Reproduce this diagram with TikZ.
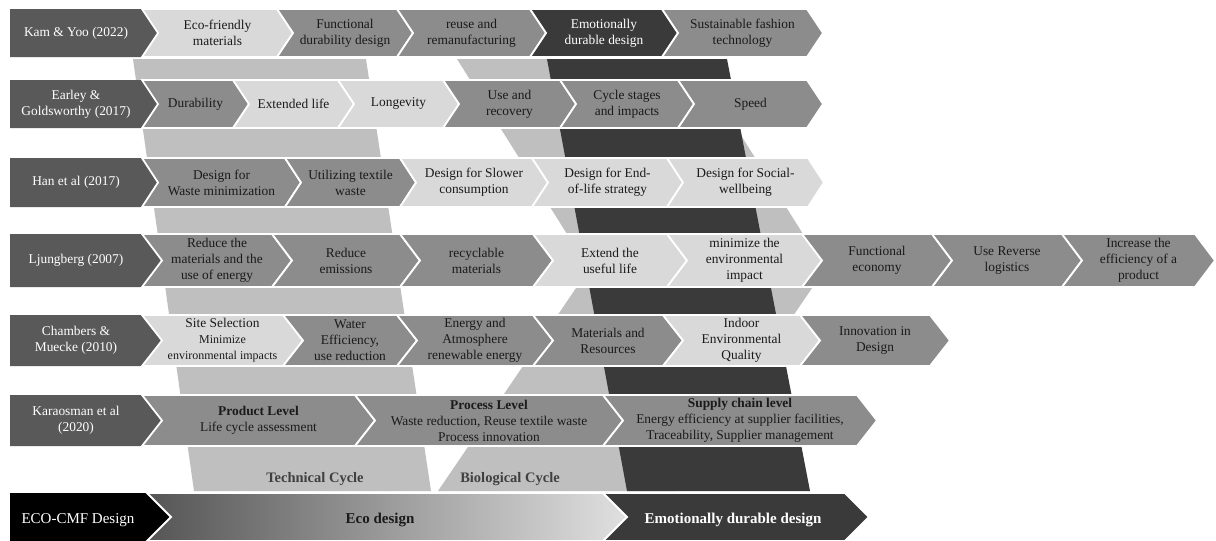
\documentclass[tikz,border=0pt]{standalone}
\usepackage{fontspec}
\setmainfont{Liberation Serif}
\usetikzlibrary{calc}
\definecolor{lab}{HTML}{595959}
\definecolor{lt}{HTML}{D9D9D9}
\definecolor{md}{HTML}{8C8C8C}
\definecolor{dk}{HTML}{3A3A3A}
\definecolor{pil}{HTML}{BFBFBF}
\definecolor{ink}{HTML}{1A1A1A}
\definecolor{bandtxt}{HTML}{404040}
\definecolor{edl}{HTML}{555555}
\definecolor{edr}{HTML}{E0E0E0}
\newcommand{\setrow}[3]{\def\rowt{#1}\def\rowb{#2}\def\rowd{#3}\pgfmathsetmacro\rowm{(#1+#2)/2}}
\newcommand{\chv}[6]{%
  \path[fill=#4,draw=white,line width=1.8pt,line join=miter] (#2,\rowt) -- (#3,\rowt) -- ({#3+\rowd},\rowm) -- (#3,\rowb) -- (#2,\rowb) -- ({#2+\rowd},\rowm) -- cycle;
  \node[txt,text=#5] (#1) at ({(#2+#3)/2+\rowd/2},\rowm) {#6};}
\newcommand{\lbl}[4]{%
  \path[fill=#3] (10,\rowt) -- (#2,\rowt) -- ({#2+\rowd},\rowm) -- (#2,\rowb) -- (10,\rowb) -- cycle;
  \node[txt,text=white] (#1) at ({(10+#2)/2},\rowm) {#4};}
\newcommand{\smalltxt}[1]{{\fontsize{12}{14}\selectfont #1}}
\tikzset{txt/.style={align=center,inner sep=0pt,font=\fontsize{13.4}{16}\selectfont},
  bandlabel/.style={inner sep=0pt,text=bandtxt,font=\fontsize{14.5}{17}\selectfont\bfseries}}
\begin{document}
\begin{tikzpicture}[x=1pt,y=-1pt]
\useasboundingbox (0,0) rectangle (1216,541);
\fill[white] (0,0) rectangle (1216,541);
% pillars
\fill[pil] (133,59) -- (366,59) -- (431,491) -- (194,491) -- cycle;
\fill[pil] (457,59) -- (589,269) -- (438,491) -- (674,491) -- (825,269) -- (693,59) -- cycle;
\fill[dk] (547,59) -- (727,59) -- (810,491) -- (627,491) -- cycle;
\node[bandlabel] (tech) at (315,479) {Technical Cycle};
\node[bandlabel] (bio) at (510,479) {Biological Cycle};
% row 1
\setrow{9}{57}{16}
\lbl{kam}{142}{lab}{Kam \& Yoo (2022)}
\chv{kamA}{142}{277}{lt}{ink}{Eco-friendly\\materials}
\chv{kamB}{277}{397}{md}{ink}{Functional\\durability design}
\chv{kamC}{397}{530}{md}{ink}{reuse and\\remanufacturing}
\chv{kamD}{530}{662}{dk}{white}{Emotionally\\durable design}
\chv{kamE}{662}{807}{md}{ink}{Sustainable fashion\\technology}
% row 2
\setrow{80}{128}{16}
\lbl{ear}{142}{lab}{Earley \&\\Goldsworthy (2017)}
\chv{earA}{142}{233}{md}{ink}{Durability}
\chv{earB}{233}{338}{lt}{ink}{Extended life}
\chv{earC}{338}{443}{lt}{ink}{Longevity}
\chv{earD}{443}{560}{md}{ink}{Use and\\recovery}
\chv{earE}{560}{678}{md}{ink}{Cycle stages\\and impacts}
\chv{earF}{678}{807}{md}{ink}{Speed}
% row 3
\setrow{158}{207}{16}
\lbl{han}{142}{lab}{Han et al (2017)}
\chv{hanA}{142}{285}{md}{ink}{Design for\\Waste minimization}
\chv{hanB}{285}{400}{md}{ink}{Utilizing textile\\waste}
\chv{hanC}{400}{532}{lt}{ink}{Design for Slower\\consumption}
\chv{hanD}{532}{667}{lt}{ink}{Design for End-\\of-life strategy}
\chv{hanE}{667}{808}{lt}{ink}{Design for Social-\\wellbeing}
% row 4
\setrow{234}{287}{20}
\lbl{lju}{142}{lab}{Ljungberg (2007)}
\chv{ljuA}{142}{272}{md}{ink}{Reduce the\\materials and the\\use of energy}
\chv{ljuB}{272}{400}{md}{ink}{Reduce\\emissions}
\chv{ljuC}{400}{533}{md}{ink}{recyclable\\materials}
\chv{ljuD}{533}{667}{lt}{ink}{Extend the\\useful life}
\chv{ljuE}{667}{802}{lt}{ink}{minimize the\\environmental\\impact}
\chv{ljuF}{802}{932}{md}{ink}{Functional\\economy}
\chv{ljuG}{932}{1062}{md}{ink}{Use Reverse\\logistics}
\chv{ljuH}{1062}{1195}{md}{ink}{Increase the\\efficiency of a\\product}
% row 5
\setrow{315}{366}{20}
\lbl{cha}{142}{lab}{Chambers \&\\Muecke (2010)}
\chv{chaA}{142}{283}{lt}{ink}{Site Selection\\\smalltxt{Minimize}\\\smalltxt{environmental impacts}}
\chv{chaB}{283}{397}{md}{ink}{Water\\Efficiency,\\use reduction}
\chv{chaC}{397}{533}{md}{ink}{Energy and\\Atmosphere\\renewable energy}
\chv{chaD}{533}{663}{md}{ink}{Materials and\\Resources}
\chv{chaE}{663}{800}{lt}{ink}{Indoor\\Environmental\\Quality}
\chv{chaF}{800}{930}{md}{ink}{Innovation in\\Design}
% row 6
\setrow{395}{446}{20}
\lbl{kar}{142}{lab}{Karaosman et al\\(2020)}
\chv{karA}{142}{355}{md}{ink}{\textbf{Product Level}\\Life cycle assessment}
\chv{karB}{355}{603}{md}{ink}{\textbf{Process Level}\\Waste reduction, Reuse textile waste\\Process innovation}
\chv{karC}{603}{857}{md}{ink}{\textbf{Supply chain level}\\Energy efficiency at supplier facilities,\\Traceability, Supplier management}
% bottom row
\fill[black] (10,493) -- (147,493) -- (171,517) -- (147,541) -- (10,541) -- cycle;
\node[txt,text=white,font=\fontsize{15}{17}\selectfont] (eco) at (78,520) {ECO-CMF Design};
\shadedraw[left color=edl,right color=edr,draw=white,line width=1.8pt] (147,493) -- (603,493) -- (627,517) -- (603,541) -- (147,541) -- (171,517) -- cycle;
\node[txt,text=ink,font=\fontsize{15}{17}\selectfont\bfseries] (ecod) at (380,520) {Eco design};
\path[fill=dk,draw=white,line width=1.8pt] (603,493) -- (845,493) -- (869,517) -- (845,541) -- (603,541) -- (627,517) -- cycle;
\node[txt,text=white,font=\fontsize{15}{17}\selectfont\bfseries] (edd) at (733,520) {Emotionally durable design};
\end{tikzpicture}
\end{document}
